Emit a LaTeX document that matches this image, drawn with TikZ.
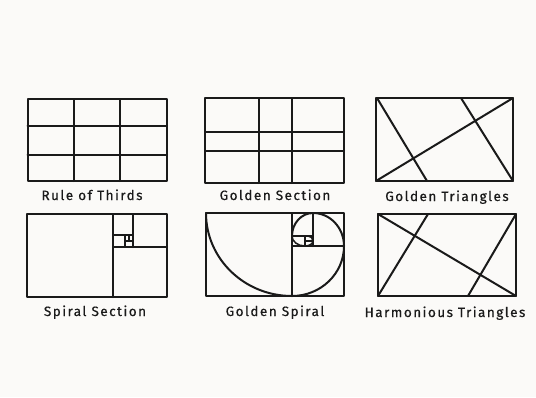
\documentclass[tikz,border=0pt]{standalone}
\usepackage{fontspec}
\setmainfont[LetterSpace=11,FakeBold=0.6]{Fira Sans}
\definecolor{bg}{HTML}{FBFAF8}
\definecolor{ink}{HTML}{1A1A1A}
\begin{document}
\begin{tikzpicture}[x=1pt,y=1pt,
  ink/.style={draw=ink,line width=2pt,line join=round,line cap=round},
  thin/.style={draw=ink,line width=1.5pt,line cap=round},
  lbl/.style={text=ink,font=\fontsize{13.5}{15}\selectfont,inner sep=0pt,anchor=base}]
\fill[bg] (0,0) rectangle (536,-397);
\useasboundingbox (0,0) rectangle (536,-397);
% Rule of Thirds
\draw[ink] (27.5,-99) rectangle (167,-181);
\draw[ink] (74,-99) -- (74,-181) (120,-99) -- (120,-181);
\draw[ink] (27.5,-126) -- (167,-126) (27.5,-155) -- (167,-155);
\node[lbl] (t1) at (92,-200) {Rule of Thirds};
% Golden Section
\draw[ink] (205,-98) rectangle (344,-183);
\draw[ink] (259,-98) -- (259,-183) (292,-98) -- (292,-183);
\draw[ink] (205,-132) -- (344,-132) (205,-151) -- (344,-151);
\node[lbl] (t2) at (275,-200) {Golden Section};
% Golden Triangles
\draw[ink] (376,-98) rectangle (513,-181);
\draw[ink] (376,-181) -- (513,-98);
\draw[ink] (377,-98) -- (427,-181);
\draw[ink] (461,-98) -- (513,-181);
\node[lbl] (t3) at (447,-201) {Golden Triangles};
% Spiral Section
\draw[ink] (27,-214) rectangle (167,-297);
\draw[ink] (113,-214) -- (113,-297);
\draw[ink] (113,-247) -- (167,-247);
\draw[ink] (133,-214) -- (133,-247);
\draw[thin] (113,-235) -- (133,-235);
\draw[thin] (125,-235) -- (125,-247);
\draw[thin] (125,-241) -- (133,-241);
\draw[thin] (129,-235) -- (129,-241);
\node[lbl] (t4) at (95,-316) {Spiral Section};
% Golden Spiral
\draw[ink] (206,-213) rectangle (344,-296);
\draw[ink] (292,-213) -- (292,-296);
\draw[ink] (292,-246) -- (344,-246);
\draw[ink] (313,-213) -- (313,-246);
\draw[thin] (292,-236) -- (313,-236);
\draw[thin] (305,-236) -- (305,-246);
\draw[thin] (305,-241) -- (313,-241);
\draw[ink] (206,-213) arc[start angle=180,end angle=270,x radius=86,y radius=83]
  arc[start angle=270,end angle=360,x radius=52,y radius=50]
  arc[start angle=0,end angle=90,x radius=31,y radius=33]
  arc[start angle=90,end angle=180,x radius=21,y radius=23];
\draw[thin] (292,-236) arc[start angle=180,end angle=270,x radius=13,y radius=10]
  arc[start angle=270,end angle=360,x radius=8,y radius=5]
  arc[start angle=0,end angle=90,x radius=5,y radius=5];
\node[lbl] (t5) at (275,-316) {Golden Spiral};
% Harmonious Triangles
\draw[ink] (378,-214) rectangle (516,-296);
\draw[ink] (378,-214) -- (516,-296);
\draw[ink] (428,-214) -- (378,-296);
\draw[ink] (516,-214) -- (468,-296);
\node[lbl] (t6) at (445,-317) {Harmonious Triangles};
\end{tikzpicture}
\end{document}
